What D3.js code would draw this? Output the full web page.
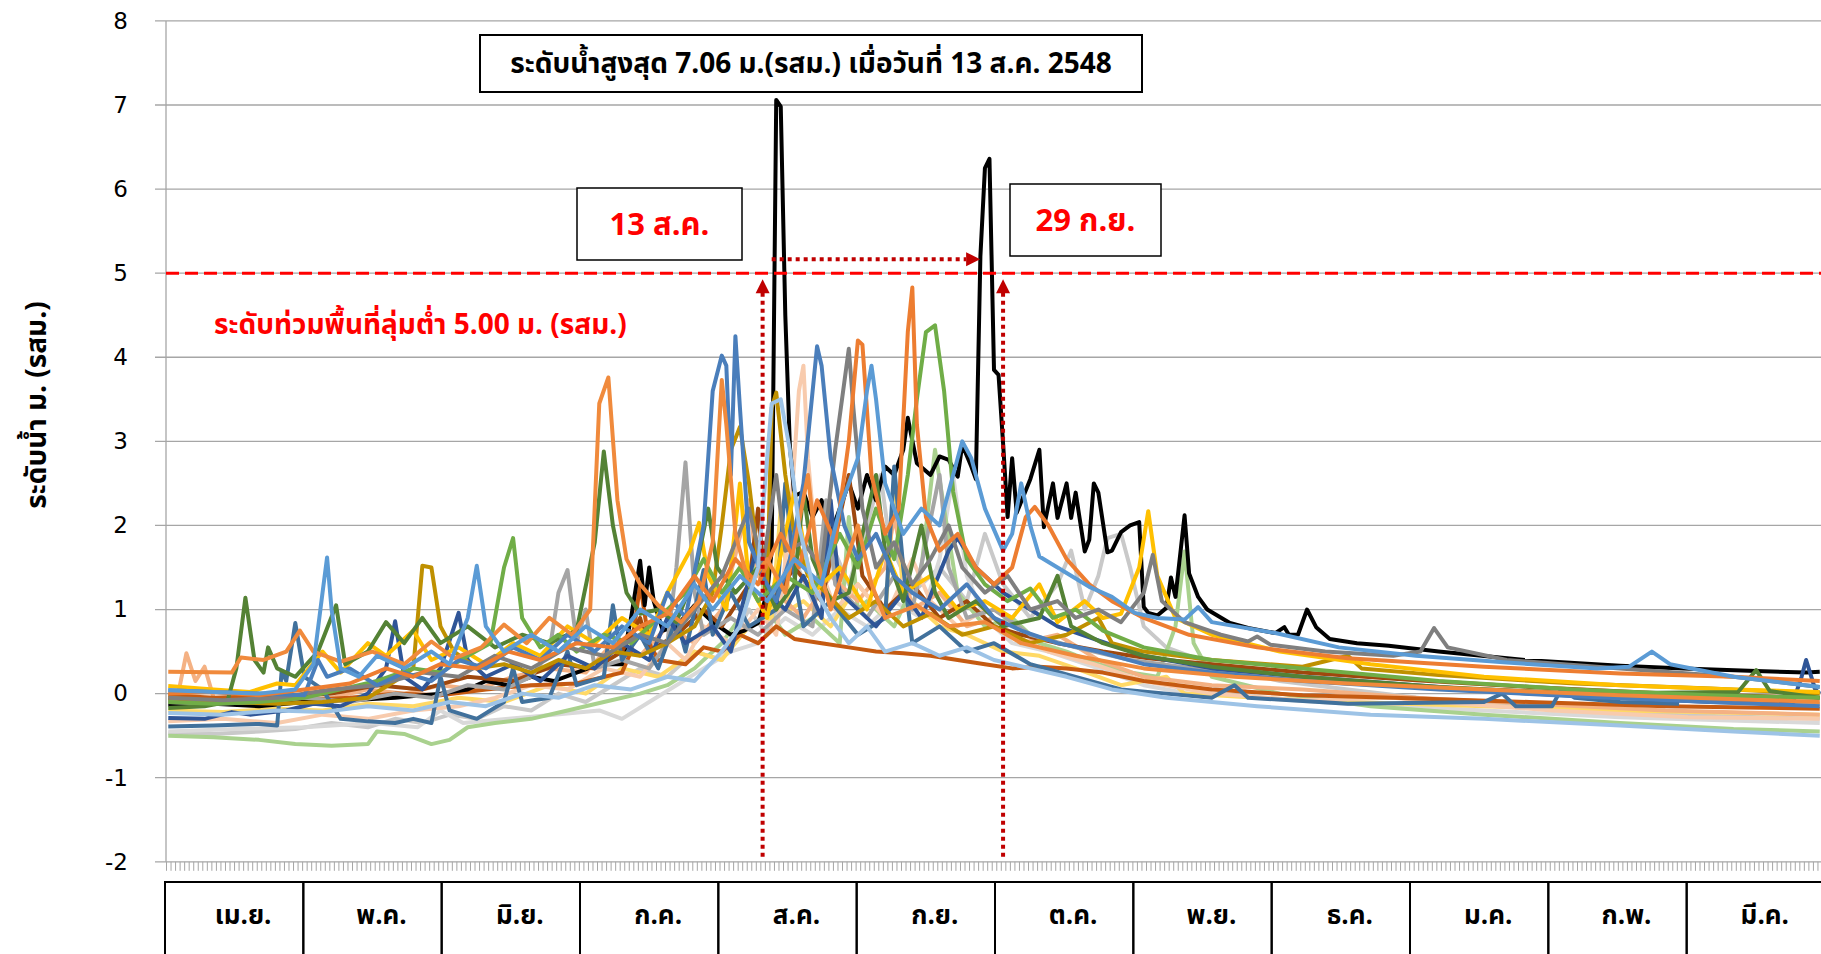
<!DOCTYPE html>
<html>
<head>
<meta charset="utf-8">
<script src="https://cdnjs.cloudflare.com/ajax/libs/d3/7.8.5/d3.min.js"></script>
<style>
body { margin:0; background:#fff; font-family: "Noto Sans Thai", "Leelawadee UI", Tahoma, "DejaVu Sans", sans-serif; }
svg { display:block; }
</style>
</head>
<body>
<script>
// bottom row labels, one box per month (Apr .. Mar)
const months = ["เม.ย.","พ.ค.","มิ.ย.","ก.ค.","ส.ค.","ก.ย.","ต.ค.","พ.ย.","ธ.ค.","ม.ค.","ก.พ.","มี.ค."];
const yTicks = [-2,-1,0,1,2,3,4,5,6,7,8];
const nDays = 365;           // day 0 = 1 Apr
const floodLevel = 5;
const peakDay1 = 131.5, peakDay2 = 184.5;   // where the dotted markers stand

// water level per year, [day from 1 Apr, level m.(รสม.)]
const y2538 = [[0,0.26],[14,0.25],[16,0.43],[21,0.4],[26,0.5],[29,0.75],[32,0.5],[38,0.38],[45,0.5],[52,0.35],[58,0.62],[63,0.42],[69,0.55],[74,0.82],[79,0.6],[84,0.9],[89,0.7],[93,1.0],[95,3.45],[97,3.76],[99,2.3],[101,1.6],[104,1.3],[108,1.05],[113,0.85],[117,1.1],[120,1.8],[122,3.73],[123,3.2],[125,1.9],[128,1.3],[132,1.6],[136,1.2],[141,2.6],[143,1.6],[146,1.0],[152,2.0],[155,1.3],[158,0.9],[165,1.05],[172,0.8],[180,0.85],[188,0.6],[200,0.45],[215,0.3],[235,0.2],[260,0.12],[290,0.05],[320,-0.02],[364,-0.1]];
const y2539 = [[0,0.0],[10,0.02],[20,-0.02],[30,0.05],[40,0.12],[48,0.3],[54,0.2],[60,0.35],[68,0.3],[75,0.5],[82,0.4],[90,0.6],[98,0.55],[104,0.8],[110,0.95],[116,1.4],[120,1.1],[125,1.6],[130,1.3],[135,1.9],[139,1.5],[143,2.3],[147,1.8],[150,3.0],[152,4.2],[153,4.15],[155,2.6],[158,1.9],[161,2.2],[163,4.3],[164,4.83],[165,3.2],[167,2.1],[170,1.7],[174,1.9],[178,1.5],[182,1.3],[186,1.5],[189,2.1],[191,2.22],[194,2.0],[198,1.6],[203,1.3],[208,1.1],[215,0.9],[225,0.7],[240,0.55],[260,0.42],[290,0.32],[320,0.24],[345,0.2],[364,0.15]];
const y2540 = [[0,0.04],[10,0.02],[20,0.0],[30,-0.02],[33,0.4],[35,0.2],[40,0.3],[46,0.1],[52,0.25],[58,0.15],[64,0.4],[70,0.3],[76,0.55],[82,0.4],[88,0.7],[94,0.5],[100,0.8],[106,0.6],[110,1.2],[114,0.9],[118,2.0],[120,3.6],[122,4.02],[123,3.9],[124,2.6],[125,4.25],[126,3.4],[128,1.8],[131,1.4],[134,1.1],[137,1.6],[140,2.5],[143,4.13],[144,3.9],[146,2.8],[149,2.0],[152,1.6],[156,1.9],[160,1.4],[164,1.2],[170,1.0],[176,1.3],[182,0.9],[188,0.75],[196,0.6],[205,0.5],[215,0.35],[230,0.25],[250,0.15],[280,0.05],[310,-0.03],[340,-0.1],[364,-0.15]];
const y2541 = [[0,-0.05],[12,-0.08],[24,-0.05],[36,0.05],[46,0.1],[56,0.25],[64,0.2],[72,0.45],[80,0.3],[88,0.55],[96,0.45],[104,0.7],[110,0.6],[116,1.0],[122,1.4],[128,2.2],[131,1.5],[134,2.6],[136,1.7],[140,1.8],[144,1.5],[147,2.9],[149,3.7],[150,4.1],[151,3.4],[153,2.2],[156,1.5],[160,1.8],[164,1.3],[168,1.6],[172,2.0],[175,1.5],[180,1.2],[185,1.4],[190,1.0],[196,1.1],[200,0.9],[205,1.0],[210,0.85],[215,1.2],[217,1.65],[219,1.1],[224,0.85],[232,0.7],[238,0.62],[240,0.68],[243,0.58],[255,0.5],[270,0.45],[276,0.5],[279,0.78],[282,0.55],[295,0.4],[320,0.3],[345,0.2],[364,0.08]];
const y2542 = [[0,-0.1],[10,-0.12],[20,-0.1],[30,-0.05],[38,0.05],[46,0.15],[54,0.3],[60,0.25],[66,0.45],[71,0.6],[74,1.5],[76,1.85],[78,0.9],[82,0.55],[86,0.7],[90,0.5],[96,0.7],[102,0.6],[108,0.9],[114,1.2],[118,1.6],[122,1.2],[126,1.5],[130,1.1],[136,1.4],[142,1.2],[148,1.9],[152,1.5],[156,2.2],[160,1.6],[163,2.6],[165,3.5],[167,4.3],[169,4.38],[171,3.6],[173,2.4],[176,1.6],[180,1.3],[185,1.1],[190,1.25],[195,0.9],[200,1.0],[206,0.75],[215,0.55],[230,0.4],[250,0.3],[280,0.15],[310,0.05],[340,-0.02],[364,-0.05]];
const y2543 = [[0,-0.17],[8,-0.15],[13,-0.1],[15,0.3],[17,1.14],[19,0.4],[21,0.25],[22,0.55],[24,0.3],[28,0.2],[33,0.5],[37,1.05],[39,0.35],[44,0.5],[48,0.85],[52,0.6],[56,0.9],[60,0.6],[66,0.8],[72,0.55],[78,0.7],[84,0.6],[90,0.75],[94,1.8],[96,2.88],[98,2.0],[101,1.2],[104,0.95],[108,1.0],[112,0.85],[116,1.4],[119,2.2],[121,1.5],[125,1.2],[130,1.5],[134,1.0],[138,1.3],[140,2.4],[142,1.6],[146,1.1],[150,1.2],[156,2.6],[158,1.7],[162,1.1],[166,2.0],[169,1.2],[172,0.9],[178,1.1],[184,0.8],[192,0.9],[196,1.4],[199,0.8],[206,0.6],[215,0.45],[230,0.32],[250,0.2],[280,0.08],[310,0.0],[346,0.02],[350,0.28],[353,0.03],[364,-0.05]];
const y2544 = [[0,0.09],[10,0.05],[18,0.02],[24,0.12],[28,0.1],[34,0.5],[38,0.25],[44,0.6],[48,0.45],[54,0.75],[58,0.4],[64,0.55],[70,0.35],[76,0.6],[82,0.45],[88,0.8],[94,0.6],[100,0.9],[106,0.7],[110,1.2],[113,1.5],[115,1.7],[117,2.03],[119,1.4],[123,1.0],[126,2.5],[128,1.3],[132,0.9],[138,2.4],[142,1.2],[148,1.5],[154,1.0],[158,1.7],[162,1.2],[168,1.4],[174,1.0],[180,1.1],[186,0.9],[192,1.3],[196,0.85],[202,1.1],[206,0.9],[210,0.95],[214,1.5],[216,2.17],[218,1.4],[222,0.9],[230,0.7],[245,0.5],[265,0.35],[290,0.2],[320,0.1],[345,0.05],[364,0.02]];
const y2545 = [[0,-0.05],[12,-0.1],[24,-0.12],[34,-0.1],[44,-0.05],[50,0.15],[54,0.3],[56,1.52],[58,1.5],[60,0.8],[63,0.5],[68,0.3],[74,0.35],[80,0.25],[86,0.4],[92,0.3],[98,0.5],[104,0.45],[110,0.6],[116,0.8],[120,1.2],[122,2.0],[124,2.9],[126,3.17],[128,2.5],[130,1.6],[132,1.2],[133,3.4],[134,3.58],[136,2.6],[138,1.9],[141,1.4],[145,1.2],[150,0.9],[156,1.1],[162,0.8],[168,0.95],[175,0.7],[182,0.8],[190,0.6],[198,0.7],[205,0.9],[208,0.6],[215,0.5],[230,0.4],[250,0.32],[260,0.45],[263,0.3],[280,0.22],[310,0.12],[340,0.06],[364,0.0]];
const y2546 = [[0,-0.07],[2,-0.05],[4,0.48],[6,0.15],[8,0.32],[10,-0.05],[16,-0.08],[26,-0.1],[36,-0.05],[44,0.05],[52,0.0],[60,0.1],[68,0.05],[76,0.2],[84,0.3],[92,0.25],[98,0.6],[104,0.45],[110,0.8],[116,0.6],[122,1.0],[128,2.3],[130,1.4],[134,1.2],[140,0.9],[146,1.4],[152,1.1],[158,1.5],[160,2.1],[164,1.0],[170,1.2],[176,0.8],[182,0.9],[188,0.6],[196,0.7],[205,0.4],[215,0.2],[230,0.1],[250,0.05],[275,-0.05],[300,-0.12],[330,-0.2],[364,-0.25]];
const y2547 = [[0,-0.33],[12,-0.3],[24,-0.35],[34,-0.25],[44,-0.3],[54,-0.2],[64,-0.15],[72,-0.05],[80,0.1],[88,0.05],[96,0.3],[104,0.2],[110,0.6],[114,0.4],[118,0.8],[124,0.6],[130,1.0],[134,0.7],[137,2.0],[139,3.6],[140,3.9],[141,2.8],[143,1.6],[147,1.0],[152,1.3],[158,0.9],[164,1.6],[168,1.1],[174,0.8],[180,1.0],[186,0.7],[194,0.5],[204,0.35],[215,0.15],[230,0.0],[250,-0.08],[270,-0.05],[280,-0.1],[305,-0.2],[335,-0.28],[364,-0.3]];
const y2548 = [[0,-0.13],[10,-0.12],[20,-0.15],[30,-0.1],[40,-0.08],[50,-0.05],[60,0.0],[66,0.05],[70,0.15],[75,0.1],[80,0.2],[85,0.15],[90,0.25],[95,0.35],[100,0.35],[102,0.9],[104,1.58],[105,1.05],[106,1.5],[107,1.1],[109,0.75],[112,0.8],[116,1.05],[120,0.85],[124,0.7],[127,0.75],[130,0.84],[132,1.2],[133,1.7],[134,7.06],[135,6.98],[136,4.5],[137,2.95],[138,2.35],[140,2.4],[142,2.1],[144,2.3],[146,1.9],[148,2.2],[150,2.5],[152,2.2],[154,2.6],[156,2.3],[158,2.7],[160,2.6],[162,2.9],[163,3.28],[165,2.74],[168,2.6],[170,2.82],[172,2.78],[174,2.58],[175,2.96],[177,2.7],[178,2.55],[179,5.2],[180,6.25],[181,6.36],[182,3.85],[183,3.79],[184,2.98],[185,2.1],[186,2.8],[187,2.15],[190,2.55],[192,2.9],[193,1.98],[195,2.5],[196,2.09],[198,2.5],[199,2.09],[200,2.39],[202,1.69],[203,1.83],[204,2.5],[205,2.39],[207,1.68],[208,1.7],[210,1.92],[212,2.0],[214,2.04],[215,1.03],[216,0.96],[218,0.93],[220,1.02],[221,1.38],[222,1.15],[224,2.12],[225,1.43],[227,1.15],[229,1.0],[234,0.84],[238,0.78],[244,0.72],[246,0.79],[247,0.7],[249,0.7],[251,1.0],[253,0.79],[256,0.65],[262,0.6],[269,0.57],[280,0.5],[299,0.4],[320,0.33],[334,0.3],[350,0.27],[361,0.25],[364,0.26]];
const y2549 = [[0,0.04],[10,0.02],[20,0.0],[28,0.05],[32,0.35],[34,1.2],[35,1.62],[36,1.0],[38,0.3],[42,0.2],[46,0.45],[52,0.3],[58,0.5],[62,0.35],[66,0.9],[68,1.52],[70,0.8],[74,0.5],[80,0.7],[86,0.5],[92,0.8],[98,0.6],[104,1.0],[110,0.8],[116,1.3],[120,1.0],[126,1.4],[132,1.1],[138,1.6],[144,1.3],[148,2.2],[152,2.8],[154,3.6],[155,3.9],[156,3.5],[158,2.5],[162,1.9],[166,2.2],[170,2.0],[173,2.6],[175,3.0],[177,2.8],[180,2.2],[184,1.7],[186,1.9],[188,2.5],[190,2.0],[192,1.63],[196,1.5],[203,1.27],[208,1.15],[213,0.96],[218,0.9],[224,0.88],[227,1.03],[230,0.85],[244,0.72],[258,0.55],[275,0.45],[295,0.37],[315,0.3],[322,0.32],[327,0.5],[331,0.35],[345,0.2],[364,0.08]];
const y2550 = [[0,-0.29],[8,-0.3],[14,-0.22],[18,-0.25],[26,-0.2],[32,-0.12],[38,-0.15],[44,0.0],[48,0.3],[50,0.86],[52,0.2],[56,0.05],[60,0.3],[64,0.96],[66,0.4],[70,0.2],[76,0.35],[82,0.15],[88,0.45],[94,0.3],[100,0.6],[106,0.4],[110,0.9],[114,0.6],[120,0.8],[124,0.5],[130,1.8],[132,1.2],[136,1.0],[140,1.4],[144,0.9],[146,2.3],[148,1.2],[150,1.1],[156,0.8],[162,1.2],[166,0.9],[172,1.7],[174,1.85],[178,1.5],[184,1.2],[190,1.0],[196,0.8],[204,0.65],[215,0.45],[230,0.3],[250,0.2],[275,0.1],[300,0.0],[320,-0.05],[340,-0.1],[358,-0.12],[360,0.2],[361,0.4],[363,0.05],[364,0.0]];
const y2551 = [[0,-0.39],[10,-0.38],[20,-0.36],[24,-0.38],[25,0.27],[26,0.15],[28,0.84],[30,0.2],[34,0.05],[38,-0.3],[44,-0.33],[50,-0.35],[54,-0.3],[58,-0.35],[60,0.2],[62,-0.2],[68,-0.3],[74,-0.1],[76,0.3],[78,-0.1],[84,-0.05],[88,0.5],[90,0.1],[96,0.2],[98,1.05],[100,0.4],[104,0.7],[108,0.3],[112,0.9],[114,0.5],[118,1.47],[120,0.7],[124,1.2],[128,0.8],[134,1.0],[136,2.5],[138,1.4],[140,0.8],[146,1.1],[152,0.7],[158,0.9],[160,2.7],[162,1.5],[164,0.6],[170,0.8],[176,0.5],[182,0.6],[190,0.35],[200,0.2],[210,0.05],[220,0.0],[230,-0.05],[235,0.1],[238,-0.05],[260,-0.12],[290,-0.1],[294,0.0],[297,-0.15],[305,-0.15],[307,0.05],[310,-0.05],[320,-0.1],[333,-0.12]];
const y2552 = [[0,-0.1],[10,-0.12],[20,-0.1],[30,-0.05],[40,-0.1],[50,0.0],[58,-0.05],[66,0.1],[74,0.05],[80,0.2],[84,0.5],[86,1.2],[88,1.47],[90,0.6],[92,1.0],[94,0.3],[100,0.4],[106,0.3],[110,0.6],[112,1.5],[114,2.75],[116,1.2],[118,0.7],[124,0.9],[130,0.7],[136,1.0],[142,0.8],[145,2.3],[147,1.3],[154,0.9],[160,1.4],[164,1.0],[170,2.6],[172,1.5],[176,0.9],[182,1.0],[190,0.7],[200,0.55],[212,0.4],[226,0.3],[240,0.2],[260,0.12],[290,0.05],[320,-0.02],[345,-0.08],[364,-0.12]];
const y2553 = [[0,-0.47],[10,-0.48],[20,-0.45],[28,-0.42],[36,-0.35],[44,-0.4],[50,-0.3],[56,-0.35],[62,-0.25],[68,-0.3],[74,-0.15],[80,-0.2],[86,0.0],[92,-0.1],[98,0.1],[104,0.3],[110,0.2],[116,0.5],[122,0.4],[128,1.0],[132,0.7],[138,1.6],[142,1.1],[146,1.8],[150,1.3],[154,2.0],[157,2.6],[159,1.8],[164,1.2],[170,1.5],[176,1.1],[180,1.9],[184,1.3],[190,0.9],[196,1.3],[199,1.7],[202,1.0],[205,1.4],[207,1.85],[210,1.9],[212,1.5],[215,0.8],[220,0.55],[230,0.35],[245,0.15],[260,0.05],[280,-0.08],[300,-0.15],[330,-0.25],[364,-0.3]];
const y2554 = [[0,-0.5],[10,-0.52],[20,-0.55],[28,-0.6],[36,-0.62],[44,-0.6],[46,-0.45],[52,-0.48],[58,-0.6],[62,-0.55],[66,-0.4],[72,-0.35],[80,-0.3],[88,-0.2],[96,-0.1],[104,0.0],[110,0.1],[116,0.3],[122,0.6],[126,0.9],[130,1.6],[132,1.0],[136,0.7],[142,0.9],[148,0.6],[150,2.1],[152,1.0],[154,1.1],[160,0.8],[166,1.5],[169,2.9],[171,2.2],[174,1.2],[180,0.8],[186,0.9],[192,0.6],[198,0.5],[205,0.35],[212,0.25],[218,0.2],[222,0.8],[224,1.69],[226,0.6],[230,0.2],[245,0.0],[265,-0.15],[290,-0.25],[320,-0.35],[345,-0.42],[364,-0.45]];
const y2555 = [[0,-0.02],[10,-0.05],[20,-0.03],[30,-0.08],[40,-0.05],[50,0.0],[60,-0.02],[70,0.05],[80,0.1],[90,0.12],[100,0.25],[102,0.5],[104,1.3],[106,0.6],[108,0.4],[114,0.35],[118,0.55],[122,0.5],[126,0.7],[130,0.6],[134,0.8],[138,0.65],[144,0.6],[150,0.55],[156,0.5],[162,0.48],[168,0.45],[174,0.4],[180,0.35],[186,0.3],[192,0.32],[198,0.3],[206,0.25],[215,0.15],[230,0.05],[250,-0.02],[270,-0.05],[300,-0.1],[330,-0.15],[364,-0.18]];
const y2556 = [[0,-0.2],[12,-0.22],[24,-0.18],[34,-0.2],[44,-0.12],[54,-0.15],[64,-0.05],[74,-0.1],[84,0.1],[92,0.0],[100,0.3],[108,0.2],[116,0.5],[122,0.4],[128,0.8],[133,0.9],[135,2.2],[137,1.0],[140,1.1],[146,0.8],[152,1.3],[158,0.9],[160,2.4],[162,1.2],[170,0.8],[176,0.7],[184,0.5],[192,0.45],[200,0.3],[210,0.1],[220,0.2],[224,0.0],[240,-0.05],[260,-0.1],[290,-0.15],[320,-0.2],[364,-0.25]];
const y2557 = [[0,-0.08],[12,-0.1],[24,-0.05],[36,0.0],[46,0.1],[56,0.05],[66,0.2],[76,0.15],[86,0.35],[94,0.3],[100,0.5],[104,0.9],[106,0.5],[112,0.7],[118,1.0],[122,0.8],[128,1.3],[130,2.2],[132,1.0],[138,1.5],[144,1.1],[150,2.6],[153,1.4],[158,1.0],[164,1.3],[170,0.9],[176,1.1],[182,0.8],[188,0.7],[196,0.6],[206,0.5],[216,0.42],[230,0.35],[250,0.25],[275,0.16],[300,0.08],[330,0.0],[364,-0.05]];
const y2558 = [[0,-0.45],[15,-0.42],[30,-0.4],[45,-0.35],[55,-0.4],[60,-0.2],[65,-0.35],[75,-0.3],[85,-0.25],[95,-0.2],[100,-0.3],[106,-0.1],[112,0.1],[118,0.3],[124,0.5],[130,0.6],[136,0.9],[142,0.7],[148,1.0],[154,0.8],[160,1.1],[166,0.9],[170,1.6],[173,2.6],[176,1.4],[180,0.9],[186,0.6],[194,0.5],[205,0.3],[215,0.1],[225,0.0],[235,0.1],[240,-0.05],[260,-0.12],[290,-0.2],[320,-0.28],[364,-0.35]];
const y2559 = [[0,-0.23],[12,-0.25],[24,-0.2],[34,-0.22],[44,-0.15],[54,-0.2],[62,-0.1],[70,-0.15],[78,0.0],[86,-0.05],[94,0.1],[102,0.05],[110,0.2],[116,0.15],[122,0.5],[126,0.8],[130,1.5],[132,2.8],[133,3.45],[135,3.5],[137,2.9],[139,2.0],[142,1.3],[146,0.9],[150,0.6],[154,0.8],[158,0.5],[164,0.6],[170,0.45],[176,0.55],[182,0.4],[190,0.3],[198,0.2],[208,0.05],[220,-0.05],[240,-0.15],[265,-0.25],[290,-0.3],[320,-0.38],[345,-0.45],[364,-0.5]];

// drawing order, first at the bottom
const years = [y2553, y2558, y2554, y2556, y2546, y2547, y2555, y2548, y2557, y2552, y2551, y2550, y2545, y2544, y2543, y2542, y2541, y2540, y2539, y2538, y2549, y2559];
const lineColors = ["#C9C9C9","#D9D9D9","#A9D18E","#FFD966","#F4B183","#F8CBAD","#C55A11","#000000","#9E480E","#A5A5A5","#41719C","#2F5597","#BF9000","#FFC000","#548235","#70AD47","#7F7F7F","#4A7EBB","#ED7D31","#F08A3C","#5B9BD5","#9DC3E6"];

var W = 1821, H = 954;
var left = 166, right = 1822, top0 = 20.9, bottom0 = 861.8;

var svg = d3.select("body").append("svg")
            .attr("width", W).attr("height", H);

var x = d3.scaleLinear().domain([0, nDays]).range([left, right]);
var y = d3.scaleLinear().domain([-2, 8]).range([bottom0, top0]);
var mx = d3.scaleBand().domain(months).range([165, 1825]);

//Gridlines
svg.append("g").selectAll("line")
   .data(yTicks).enter().append("line")
   .attr("x1", left - 11).attr("x2", right)
   .attr("y1", d => y(d)).attr("y2", d => y(d))
   .attr("stroke", "#A6A6A6").attr("stroke-width", 1.3);
svg.append("line")
   .attr("x1", left).attr("x2", left)
   .attr("y1", y(8)).attr("y2", y(-2))
   .attr("stroke", "#A6A6A6").attr("stroke-width", 1.3);

//y labels
var yAxis = d3.axisLeft(y).tickValues(yTicks).tickSize(0).tickPadding(38).tickFormat(d => String(d));
var yg = svg.append("g").attr("transform", "translate(" + left + ",0)").call(yAxis);
yg.select(".domain").remove();
yg.selectAll("text").attr("font-size", "23px").attr("fill", "#000")
  .attr("font-family", "'DejaVu Sans', sans-serif");

//daily tick marks under the axis
var xAxis = d3.axisBottom(x).tickValues(d3.range(0, nDays + 1)).tickSize(9).tickFormat("");
var xg = svg.append("g").attr("transform", "translate(0," + y(-2) + ")").call(xAxis);
xg.select(".domain").remove();
xg.selectAll("line").attr("stroke", "#A6A6A6").attr("stroke-width", 1);

//Month boxes
var mb = svg.append("g");
mb.selectAll("rect").data(months).enter().append("rect")
  .attr("x", d => mx(d)).attr("y", 882)
  .attr("width", mx.bandwidth()).attr("height", 80)
  .attr("fill", "none").attr("stroke", "#000").attr("stroke-width", 2);
mb.selectAll("text").data(months).enter().append("text")
  .attr("x", d => mx(d) + mx.bandwidth() / 2 + 9).attr("y", 924)
  .attr("text-anchor", "middle").attr("font-size", "26px").attr("font-weight", "bold")
  .text(d => d);

//Axis title
svg.append("text")
   .attr("transform", "translate(46,405) rotate(-90)")
   .attr("text-anchor", "middle").attr("font-size", "28px").attr("font-weight", "bold")
   .text("ระดับน้ำ ม. (รสม.)");

//the lines
var line = d3.line().x(d => x(d[0] + 0.5)).y(d => y(d[1]));
svg.append("g").selectAll("path")
   .data(years).enter().append("path")
   .attr("d", d => line(d))
   .attr("fill", "none").attr("stroke", (d, i) => lineColors[i])
   .attr("stroke-width", 4).attr("stroke-linejoin", "round");

//flood level
svg.append("line")
   .attr("x1", left).attr("x2", right)
   .attr("y1", y(floodLevel)).attr("y2", y(floodLevel))
   .attr("stroke", "#FF0000").attr("stroke-width", 3).attr("stroke-dasharray", "13,6");
svg.append("text")
   .attr("x", 214).attr("y", 334)
   .attr("fill", "#FF0000").attr("font-size", "28px").attr("font-weight", "bold")
   .text("ระดับท่วมพื้นที่ลุ่มต่ำ 5.00 ม. (รสม.)");

//dotted markers with arrow heads
var dark = "#C00000";
[peakDay1, peakDay2].forEach(function (dd) {
  var xx = x(dd);
  svg.append("line").attr("x1", xx).attr("x2", xx)
     .attr("y1", y(-2) - 5).attr("y2", y(floodLevel) + 18)
     .attr("stroke", dark).attr("stroke-width", 4).attr("stroke-dasharray", "4,4");
  svg.append("path")
     .attr("d", "M" + xx + "," + (y(floodLevel) + 6) + "l-7,14h14z")
     .attr("fill", dark);
});
var hy = y(floodLevel) - 14;
svg.append("line").attr("x1", x(peakDay1 + 2)).attr("x2", x(179) - 12)
   .attr("y1", hy).attr("y2", hy)
   .attr("stroke", dark).attr("stroke-width", 4).attr("stroke-dasharray", "4,4");
svg.append("path")
   .attr("d", "M" + (x(179) + 2) + "," + hy + "l-14,-7v14z")
   .attr("fill", dark);

//boxes
function box(x0, y0, w, h, txt, col, fs, sw) {
  svg.append("rect").attr("x", x0).attr("y", y0).attr("width", w).attr("height", h)
     .attr("fill", "#fff").attr("stroke", "#000").attr("stroke-width", sw);
  svg.append("text").attr("x", x0 + w / 2).attr("y", y0 + h / 2)
     .attr("dy", "0.35em").attr("text-anchor", "middle")
     .attr("fill", col).attr("font-size", fs).attr("font-weight", "bold")
     .text(txt);
}
box(480, 35, 662, 57, "ระดับน้ำสูงสุด 7.06 ม.(รสม.) เมื่อวันที่ 13 ส.ค. 2548", "#000", "28px", 2);
box(577, 188, 165, 72, "13 ส.ค.", "#FF0000", "31px", 1.5);
box(1010, 184, 151, 72, "29 ก.ย.", "#FF0000", "31px", 1.5);
</script>
</body>
</html>
